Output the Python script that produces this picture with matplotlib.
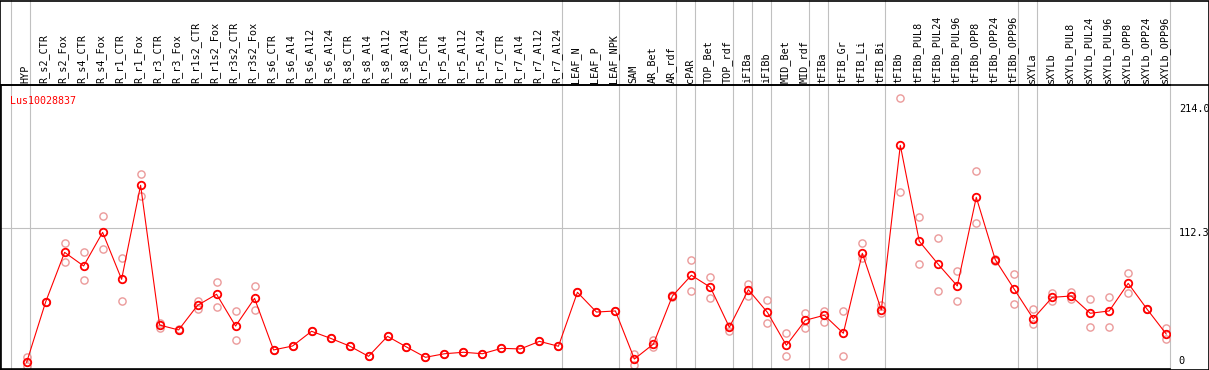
import numpy as np
import matplotlib
matplotlib.use('Agg')
import matplotlib.pyplot as plt
from matplotlib.lines import Line2D

gene = 'Lus10028837'

samples = ['HYP', 'R_s2_CTR', 'R_s2_Fox', 'R_s4_CTR', 'R_s4_Fox', 'R_r1_CTR', 'R_r1_Fox',
           'R_r3_CTR', 'R_r3_Fox', 'R_r1s2_CTR', 'R_r1s2_Fox', 'R_r3s2_CTR', 'R_r3s2_Fox',
           'R_s6_CTR', 'R_s6_Al4', 'R_s6_Al12', 'R_s6_Al24', 'R_s8_CTR', 'R_s8_Al4',
           'R_s8_Al12', 'R_s8_Al24', 'R_r5_CTR', 'R_r5_Al4', 'R_r5_Al12', 'R_r5_Al24',
           'R_r7_CTR', 'R_r7_Al4', 'R_r7_Al12', 'R_r7_Al24', 'LEAF_N', 'LEAF_P', 'LEAF_NPK',
           'SAM', 'AR_Bet', 'AR_rdf', 'cPAR', 'TOP_Bet', 'TOP_rdf', 'iFIBa', 'iFIBb',
           'MID_Bet', 'MID_rdf', 'tFIBa', 'tFIB_Gr', 'tFIB_Li', 'tFIB_Bi', 'tFIBb',
           'tFIBb_PUL8', 'tFIBb_PUL24', 'tFIBb_PUL96', 'tFIBb_OPP8', 'tFIBb_OPP24',
           'tFIBb_OPP96', 'sXYLa', 'sXYLb', 'sXYLb_PUL8', 'sXYLb_PUL24', 'sXYLb_PUL96',
           'sXYLb_OPP8', 'sXYLb_OPP24', 'sXYLb_OPP96']

# mean expression per sample
means = [3.0, 52.2, 92.7, 81.6, 109.0, 70.7, 147.4, 33.4, 29.4, 49.5, 58.5, 32.6, 55.2,
         13.1, 16.3, 28.3, 22.6, 16.3, 7.9, 24.2, 15.5, 7.1, 10.0, 11.2, 10.0,
         14.4, 13.9, 20.1, 16.1, 60.1, 44.0, 44.9,
         5.7, 17.9, 57.1, 74.0, 64.2, 31.6, 62.2, 43.8, 16.9, 37.3, 41.4, 26.7, 91.9, 45.7,
         180.0, 101.7, 82.9, 65.3, 137.6, 86.7, 62.6,
         38.6, 56.0, 57.1, 43.0, 44.9, 67.4, 46.2, 26.1]

# replicates (upper / lower)
rep_hi = [7.6, 52.2, 100.1, 92.7, 122.1, 87.8, 156.6, 35.3, 30.0, 53.0, 68.8, 44.9, 65.3,
          13.1, 16.3, 28.3, 22.6, 16.3, 7.9, 24.2, 15.5, 7.1, 10.0, 11.2, 10.0,
          14.4, 13.9, 20.1, 16.1, 60.1, 44.0, 44.9,
          9.5, 21.2, 58.0, 86.2, 72.3, 32.9, 66.9, 53.6, 26.7, 43.0, 44.9, 44.6, 100.1, 49.8,
          218.3, 121.3, 104.2, 77.2, 158.8, 87.5, 74.8,
          46.2, 59.3, 60.4, 54.9, 56.5, 75.6, 46.2, 30.7]
rep_lo = [0.0, 52.2, 85.1, 69.9, 95.2, 53.0, 138.9, 30.7, 29.0, 46.7, 47.9, 21.2, 45.4,
          13.1, 16.3, 28.3, 22.6, 16.3, 7.9, 24.2, 15.5, 7.1, 10.0, 11.2, 10.0,
          14.4, 13.9, 20.1, 16.1, 60.1, 44.0, 44.9,
          0.8, 15.7, 56.0, 60.9, 55.2, 28.8, 57.3, 34.8, 7.9, 31.2, 35.9, 8.4, 88.3, 43.0,
          141.7, 82.9, 61.2, 53.0, 116.9, 86.0, 50.3,
          34.0, 53.3, 54.9, 31.6, 31.6, 59.3, 46.2, 21.8]

# group separators (after last sample of each group)
group_ends = [-1, 0, 28, 31, 34, 35, 37, 38, 39, 41, 42, 45, 52, 53, 60]
yticks = [0, 112.3, 214.0]

W, H = 1209, 370
fig = plt.figure(figsize=(W / 100, H / 100), dpi=100)
ax = fig.add_axes([1 / W, 1 / H, 1169 / W, 284 / H])

x = np.arange(len(samples))
gray = '#c0c0c0'
mono = 'DejaVu Sans Mono'

for g in group_ends:
    ax.axvline(g + 0.2, ymin=0, ymax=1.3, color=gray, lw=0.8, clip_on=False, zorder=1)
ax.axhline(yticks[1], color=gray, lw=0.8, zorder=1)

ax.plot(x, rep_hi, 'o', ms=5.2, mfc='none', mec='#eb9a9a', mew=1.0, zorder=2)
ax.plot(x, rep_lo, 'o', ms=5.2, mfc='none', mec='#eb9a9a', mew=1.0, zorder=2)
ax.plot(x, means, '-', color='red', lw=0.8, zorder=3)
ax.plot(x, means, 'o', ms=5.4, mfc='none', mec='red', mew=1.3, zorder=4)

ax.set_xlim(-1.35, 60.2)
ax.set_ylim(-2.45, 229.2)
ax.set_xticks([])
ax.set_yticks([])
ax.spines['right'].set_visible(False)
for s in ['left', 'bottom', 'top']:
    ax.spines[s].set_linewidth(1.2)

trans = ax.get_xaxis_transform()
for i, s in enumerate(samples):
    ax.text(i - 0.08, 1.008, s, transform=trans, rotation=90, ha='center', va='bottom',
            fontsize=7.3, family=mono, clip_on=False)

ax.text(0.0075, 0.945, gene, transform=ax.transAxes, color='red', fontsize=7.2,
        family=mono, va='center', ha='left')

ytrans = ax.get_yaxis_transform()
ax.text(1.0075, yticks[2], '214.0', transform=ytrans, va='top', ha='left', fontsize=7.4,
        family=mono, clip_on=False)
ax.text(1.0075, yticks[1], '112.3', transform=ytrans, va='top', ha='left', fontsize=7.4,
        family=mono, clip_on=False)
ax.text(1.0075, yticks[0], '0', transform=ytrans, va='bottom', ha='left', fontsize=7.4,
        family=mono, clip_on=False)

# outer frame and header separator
fig.add_artist(Line2D([0, 1], [1 - 85 / H, 1 - 85 / H], color='black', lw=1.2))
fig.add_artist(Line2D([0, 1, 1, 0, 0], [0.5 / H, 0.5 / H, 1 - 0.5 / H, 1 - 0.5 / H, 0.5 / H],
                      color='black', lw=1.2))

fig.savefig('out.png', dpi=100)
